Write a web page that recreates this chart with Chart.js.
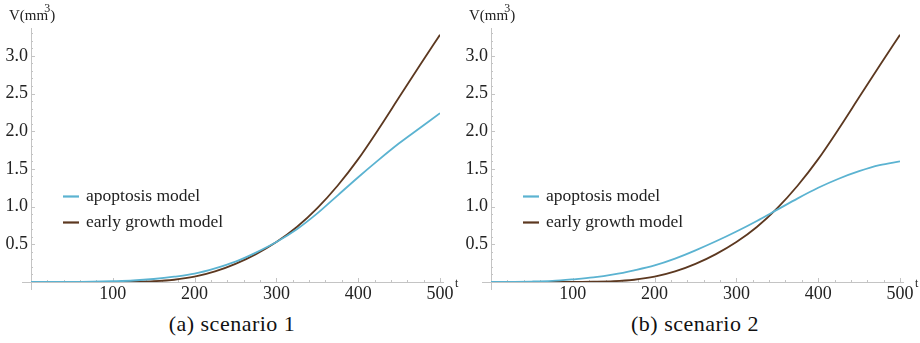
<!DOCTYPE html>
<html>
<head>
<meta charset="utf-8">
<script src="https://cdn.jsdelivr.net/npm/chart.js@4.4.1/dist/chart.umd.min.js"></script>
<style>
  html, body { margin: 0; padding: 0; background: #fff; }
  #wrap { position: relative; width: 920px; height: 343px; }
  .panel { position: absolute; top: 0; width: 460px; height: 300px; }
  .caption {
    position: absolute; top: 311px; width: 460px; text-align: center;
    font-family: "Liberation Serif", serif; font-size: 22px; letter-spacing: 0.5px; color: #111;
  }
</style>
</head>
<body>
<div id="wrap">
  <div class="panel" style="left:0"><canvas id="chartA" width="460" height="300"></canvas></div>
  <div class="panel" style="left:460px"><canvas id="chartB" width="460" height="300"></canvas></div>
  <div class="caption" style="left:2px">(a) scenario 1</div>
  <div class="caption" style="left:465px">(b) scenario 2</div>
</div>
<script>
// time points (t)
const T = [0, 25, 50, 75, 100, 125, 150, 175, 200, 225, 250, 275, 300, 325, 350, 375, 400, 425, 450, 475, 500];

// volume
const apoptosis1 = [0, 0, 0, 0.003, 0.01, 0.02, 0.04, 0.07, 0.11, 0.18, 0.27, 0.39, 0.53, 0.70, 0.91, 1.15, 1.39, 1.62, 1.84, 2.04, 2.24];
const apoptosis2 = [0, 0.002, 0.006, 0.015, 0.035, 0.06, 0.10, 0.155, 0.22, 0.31, 0.42, 0.54, 0.67, 0.81, 0.96, 1.11, 1.25, 1.37, 1.47, 1.55, 1.60];
const earlyGrowth = [0, 0, 0, 0, 0, 0.003, 0.01, 0.03, 0.07, 0.14, 0.24, 0.37, 0.53, 0.73, 0.98, 1.28, 1.63, 2.03, 2.45, 2.87, 3.28];

const X_TICKS = [100, 200, 300, 400, 500];
const Y_TICKS = [0.5, 1.0, 1.5, 2.0, 2.5, 3.0];
const X_MINOR = 20;
const Y_MINOR = 0.1;

const BLUE = "#5bb3d1";
const BROWN = "#5c3820";
const AXIS = "#c4c4c4";
const SERIF = '"Liberation Serif", serif';

const axesPlugin = {
  id: "mathAxes",
  beforeDatasetsDraw(chart) {
    const { ctx, chartArea, scales } = chart;
    const x = scales.x, y = scales.y;
    const x0 = x.getPixelForValue(0);
    const y0 = y.getPixelForValue(0);

    ctx.save();
    ctx.strokeStyle = AXIS;
    ctx.lineWidth = 1;
    ctx.beginPath();
    ctx.moveTo(x0 - 9, y0 + 0.5);
    ctx.lineTo(chartArea.right + 4, y0 + 0.5);
    ctx.moveTo(x0 + 0.5, chartArea.top);
    ctx.lineTo(x0 + 0.5, y0 + 8);
    ctx.stroke();

    // inward ticks: major and minor
    ctx.beginPath();
    for (let v = X_MINOR; v <= 500; v += X_MINOR) {
      const px = Math.round(x.getPixelForValue(v)) + 0.5;
      const len = v % 100 === 0 ? 4 : 2;
      ctx.moveTo(px, y0);
      ctx.lineTo(px, y0 - len);
    }
    for (let i = 1; i * Y_MINOR <= 3.35; i++) {
      const py = Math.round(y.getPixelForValue(i * Y_MINOR)) + 0.5;
      const len = i % 5 === 0 ? 4 : 2;
      ctx.moveTo(x0, py);
      ctx.lineTo(x0 + len, py);
    }
    ctx.stroke();
    ctx.restore();
  },
  afterDraw(chart) {
    const { ctx, chartArea, scales } = chart;
    const y0 = scales.y.getPixelForValue(0);
    ctx.save();
    ctx.fillStyle = "#222";
    ctx.textBaseline = "alphabetic";
    // y axis label
    ctx.font = "15px " + SERIF;
    ctx.fillText("V(mm", 9, 20);
    let w = ctx.measureText("V(mm").width;
    ctx.font = "12px " + SERIF;
    ctx.fillText("3", 9 + w - 4, 12);
    ctx.font = "15px " + SERIF;
    ctx.fillText(")", 9 + w + 2, 20);
    // x axis label
    ctx.font = "12px " + SERIF;
    ctx.fillText("t", chartArea.right + 15, y0 + 5);

    // legend inside plot
    ctx.font = "17.5px " + SERIF;
    ctx.textBaseline = "middle";
    chart.data.datasets.forEach((ds, i) => {
      const ly = 196 + i * 26;
      ctx.strokeStyle = ds.borderColor;
      ctx.lineWidth = 2.2;
      ctx.beginPath();
      ctx.moveTo(63, ly + 0.5);
      ctx.lineTo(79, ly + 0.5);
      ctx.stroke();
      ctx.fillText(ds.label, 86, ly);
    });
    ctx.restore();
  }
};

function makeChart(id, apoptosis) {
  return new Chart(document.getElementById(id), {
    type: "line",
    data: {
      datasets: [
        {
          label: "apoptosis model",
          data: T.map((t, i) => ({ x: t, y: apoptosis[i] })),
          borderColor: BLUE,
          borderWidth: 1.8,
          pointRadius: 0,
          cubicInterpolationMode: "monotone"
        },
        {
          label: "early growth model",
          data: T.map((t, i) => ({ x: t, y: earlyGrowth[i] })),
          borderColor: BROWN,
          borderWidth: 1.8,
          pointRadius: 0,
          cubicInterpolationMode: "monotone"
        }
      ]
    },
    options: {
      responsive: false,
      animation: false,
      layout: { padding: { top: 28, right: 20, left: 0, bottom: 0 } },
      plugins: { legend: { display: false }, tooltip: { enabled: false } },
      scales: {
        x: {
          type: "linear",
          min: 0,
          max: 500,
          afterBuildTicks: (s) => { s.ticks = X_TICKS.map(v => ({ value: v })); },
          afterFit: (s) => { s.height = 18; },
          grid: { display: false, drawTicks: false },
          border: { display: false },
          ticks: {
            padding: 1,
            maxRotation: 0,
            color: "#222",
            font: { family: SERIF, size: 18 },
            callback: (v) => String(v)
          }
        },
        y: {
          type: "linear",
          min: 0,
          max: 3.37,
          afterBuildTicks: (s) => { s.ticks = Y_TICKS.map(v => ({ value: v })); },
          afterFit: (s) => { s.width = 31; },
          grid: { display: false, drawTicks: false },
          border: { display: false },
          ticks: {
            padding: 3,
            color: "#222",
            font: { family: SERIF, size: 18 },
            callback: (v) => Number(v).toFixed(1)
          }
        }
      }
    },
    plugins: [axesPlugin]
  });
}

document.fonts.load('18px "Liberation Serif"').finally(() => {
  makeChart("chartA", apoptosis1);
  makeChart("chartB", apoptosis2);
});
</script>
</body>
</html>
